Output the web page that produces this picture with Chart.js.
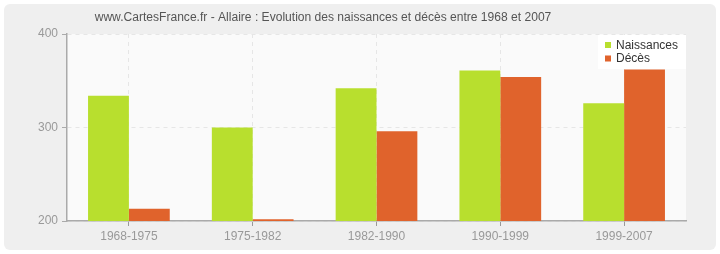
<!DOCTYPE html>
<html><head><meta charset="utf-8">
<script src="https://cdn.jsdelivr.net/npm/chart.js@4/dist/chart.umd.min.js"></script>
<style>html,body{margin:0;padding:0;background:#fff}#w{width:720px;height:254px}</style>
</head><body><div id="w"><canvas id="c" width="720" height="254"></canvas></div>
<script>
const TITLE = "www.CartesFrance.fr - Allaire : Evolution des naissances et décès entre 1968 et 2007";
const categories = ["1968-1975","1975-1982","1982-1990","1990-1999","1999-2007"];
const naissances = [334, 300, 342, 361, 326];
const deces = [213, 202, 296, 354, 362];
const seriesNames = ["Naissances","Décès"];
const yTicks = [200, 300, 400];
const colors = ["#b8df2e","#e0632c"];

const bgPlugin = {
  id:'bg',
  beforeDraw(chart){
    const ctx=chart.ctx, a=chart.chartArea;
    ctx.save();
    ctx.fillStyle='#ffffff'; ctx.fillRect(0,0,chart.width,chart.height);
    ctx.fillStyle='#efefef';
    ctx.beginPath(); ctx.roundRect(4,4,chart.width-8,chart.height-8,6); ctx.fill();
    ctx.fillStyle='#fafafa'; ctx.fillRect(a.left,a.top,a.right-a.left,a.bottom-a.top);
    ctx.restore();
  },
  afterDraw(chart){
    const ctx=chart.ctx, a=chart.chartArea;
    ctx.save();
    ctx.fillStyle='#555'; ctx.textAlign='center'; ctx.textBaseline='middle';
    let fs=11.5; ctx.font=fs+'px "Liberation Sans"';
    const w=ctx.measureText(TITLE).width; const target=457;
    fs=fs*target/w; ctx.font=fs+'px "Liberation Sans"';
    ctx.fillText(TITLE,323,18);
    const lx=598, ly=35, lw=a.right-lx, lh=34;
    ctx.fillStyle='#ffffff'; ctx.fillRect(lx,ly,lw,lh);
    ctx.font='12px "Liberation Sans"'; ctx.textAlign='left';
    chart.data.datasets.forEach((d,i)=>{
      const y=ly+10+i*13.5;
      ctx.fillStyle=d.backgroundColor; ctx.fillRect(lx+7,y-3,6,6);
      ctx.fillStyle='#333'; ctx.fillText(d.label,lx+18,y+0.5);
    });
    ctx.restore();
  }
};

new Chart(document.getElementById('c'),{
  type:'bar',
  data:{labels:categories,datasets:[
    {label:seriesNames[0],data:naissances,backgroundColor:colors[0]},
    {label:seriesNames[1],data:deces,backgroundColor:colors[1]}
  ]},
  options:{
    responsive:false,animation:false,
    layout:{padding:{top:34,right:34,left:0,bottom:0}},
    plugins:{legend:{display:false},title:{display:false},tooltip:{enabled:false}},
    datasets:{bar:{barPercentage:1,categoryPercentage:0.66}},
    scales:{
      x:{
        afterFit(s){s.height=33;},
        grid:{offset:false,color:'#e6e6e6',tickBorderDash:[],tickColor:'#999',tickLength:5},
        border:{color:'#aaa',width:1.5,dash:[4,4]},
        ticks:{color:'#999',font:{family:'"Liberation Sans"',size:12},padding:3}
      },
      y:{
        min:200,max:400,
        afterFit(s){s.width=67;},
        afterBuildTicks(s){s.ticks=yTicks.map(v=>({value:v}));},
        grid:{color:'#e6e6e6',tickBorderDash:[],tickColor:'#aaa',tickLength:5},
        border:{color:'#aaa',width:1.5,dash:[4,4]},
        ticks:{color:'#999',font:{family:'"Liberation Sans"',size:12},padding:4}
      }
    }
  },
  plugins:[bgPlugin]
});
</script></body></html>
